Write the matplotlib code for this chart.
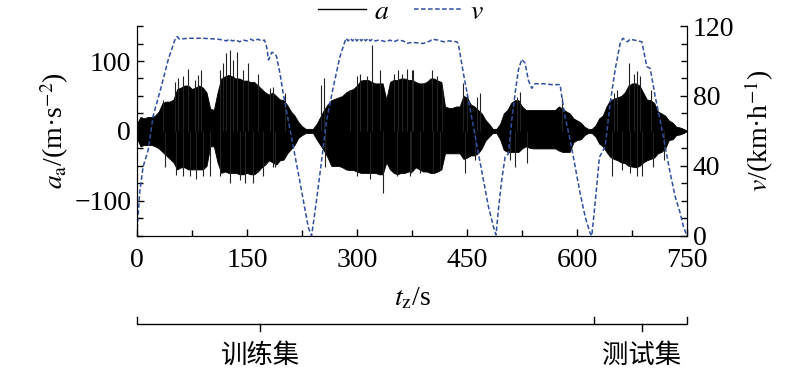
import matplotlib
matplotlib.use("Agg")
import matplotlib.pyplot as plt
import numpy as np
from matplotlib.ticker import MultipleLocator

plt.rcParams["font.family"] = ["Liberation Serif", "Noto Sans CJK SC"]
plt.rcParams["mathtext.fontset"] = "stix"
plt.rcParams["font.size"] = 20

# acceleration body envelope (read every 5 s)
t_env = np.arange(0, 751, 5)
a_upper = [10, 20, 18, 20, 20, 22, 28, 40, 42, 42, 45, 60, 62, 65, 65, 60, 62, 65, 62, 55,
           32, 30, 55, 75, 78, 80, 78, 75, 75, 72, 72, 70, 70, 65, 60, 55, 52, 55, 50, 45,
           44, 37, 28, 22, 13, 7, 3, 3, 3, 10, 20, 30, 38, 44, 46, 48, 50, 55, 58, 60,
           65, 72, 73, 73, 70, 68, 68, 68, 45, 70, 73, 73, 75, 75, 73, 73, 70, 68, 68, 70,
           75, 75, 72, 70, 35, 33, 33, 35, 35, 50, 48, 38, 35, 30, 25, 16, 10, 3, 3, 10,
           25, 30, 40, 44, 44, 35, 30, 30, 30, 30, 30, 30, 30, 30, 30, 35, 32, 28, 25, 18,
           15, 12, 6, 3, 3, 8, 18, 22, 35, 44, 46, 48, 50, 55, 65, 68, 68, 65, 55, 45,
           44, 40, 28, 25, 22, 15, 12, 6, 5, 3, 0]
a_lower = [-10, -22, -20, -20, -20, -22, -25, -30, -35, -40, -45, -55, -52, -52, -55, -55, -55, -55, -55, -50,
           -22, -22, -45, -60, -58, -60, -60, -60, -62, -62, -60, -62, -62, -58, -52, -48, -42, -45, -48, -42,
           -41, -32, -26, -20, -10, -6, -3, -3, -3, -12, -20, -28, -38, -50, -50, -50, -52, -55, -56, -56,
           -58, -60, -60, -60, -60, -60, -62, -62, -45, -55, -60, -62, -60, -60, -58, -58, -52, -55, -58, -58,
           -60, -60, -58, -55, -32, -32, -32, -32, -32, -40, -38, -35, -35, -32, -25, -14, -8, -3, -3, -12,
           -27, -30, -30, -30, -30, -25, -22, -24, -25, -25, -25, -25, -25, -25, -25, -28, -30, -30, -30, -16,
           -13, -12, -6, -3, -3, -8, -18, -22, -30, -37, -40, -42, -45, -46, -50, -51, -52, -50, -45, -42,
           -40, -38, -32, -30, -25, -13, -12, -6, -5, -3, 0]

# isolated spikes of the acceleration trace
spike_t = [38, 52, 70, 72, 88, 100, 122, 127, 127, 136, 152, 159, 251, 255, 256, 304, 313, 320,
           336, 356, 368, 374, 377, 402, 445, 447, 468, 515, 522, 532, 579, 647, 654, 671, 682, 682,
           36, 56, 63, 79, 84, 113, 118, 131, 145, 165, 181, 54, 63, 81, 90, 113, 140, 147, 172, 186,
           186, 202, 290, 300, 331, 350, 361, 375, 188, 300, 318, 354, 372,
           390, 409, 416, 450, 463, 518, 386, 404, 413, 461, 509,
           650, 677, 686, 700, 661, 672, 688, 704, 718]
spike_a = [-51, 70, 89, -65, 87, -65, 111, 116, -75, 113, 97, -75, 66, 75, -51, 82, 78, 123,
           -89, 87, 89, -60, 87, 87, 68, -60, 54, -51, 56, -46, 47, -65, 58, 97, 85, -65,
           44, 75, 78, 73, 80, 87, 97, 101, 87, 82, 61, -63, -65, -68, -65, -65, -70, -75, -65, -51,
           63, 54, 58, 78, 87, 82, 82, 87, -51, -65, -68, -65, -65,
           68, 78, 63, 54, 49, 49, -60, -60, -56, -41, -41,
           54, 82, 78, 58, -56, -60, -65, -51, -41]

# vehicle speed
t_v = [0, 4, 8.6, 15.5, 22.3, 33.6, 42.7, 51.8, 55, 58, 70, 90, 110, 118, 122, 126, 130, 135,
       140, 145, 150, 155, 160, 165, 170, 174, 177, 179.5, 184, 188.6, 190.5, 195, 199.5, 206.4,
       213.2, 220, 226.8, 233.6, 238.2, 245, 251.8, 258.6, 267.7, 276.8, 285, 288, 291, 294, 297,
       300, 303, 306, 309, 312, 315, 318, 321, 325, 330, 340, 345, 350, 356, 363, 368, 372, 380,
       390, 400, 402, 410, 418, 425, 436, 438, 440.5, 445, 451.9, 458.7, 465.5, 472.3, 479.1,
       485.9, 489.5, 492.7, 497.3, 501.8, 506.4, 510.9, 515.5, 520, 524.6, 529.1, 533.6, 538.2,
       542.7, 554, 565, 576.8, 579.1, 583.6, 590.5, 597.3, 604.1, 610.9, 617.7, 620, 624.5, 630.4,
       638.2, 645, 651.8, 658.6, 662.3, 668.6, 672.3, 688.2, 695, 699.6, 706.4, 713.2, 720, 726.8,
       733.6, 740.5, 745, 749.6]
v = [0, 25, 39.6, 49, 68.6, 85.7, 100.6, 112, 114, 112.5, 113, 113, 112.5, 112, 111.5, 112.5,
     111.5, 112, 111, 112, 111.5, 112.5, 111.5, 112.5, 111.5, 112, 108, 100.6, 105, 104, 102.5,
     93, 81.5, 66, 51, 36, 20.6, 5, 0, 20.6, 43, 66, 85, 102.5, 113, 111.5, 113, 111.5, 113,
     111.5, 113, 111.5, 113, 111.5, 113, 111.5, 112.5, 111.5, 112, 111, 112, 111, 112, 111.5,
     110, 110.5, 110.5, 110, 111.5, 112.5, 112, 111, 111.5, 111, 110, 104, 93, 77.7, 62.5, 47,
     32, 16.8, 5.3, 0.5, 14.9, 32, 45, 47, 66, 81.5, 95, 101, 98.7, 89, 84.4, 87, 87, 86.5,
     86.5, 79.6, 68, 55, 39.6, 24.4, 11, 1.5, 0, 18.7, 45, 51, 75.8, 95, 110, 113, 111, 112.5,
     111, 96.8, 95.8, 79.6, 66, 51, 36, 22.5, 13, 5, 0]

# dataset split bracket (x positions in s)
split_t = 623
train_mark = 168
test_mark = 688

fig = plt.figure(figsize=(8, 3.72), dpi=100)
ax = fig.add_axes([0.171, 0.366, 0.688, 0.564])
ax2 = ax.twinx()

ax.fill_between(t_env, a_lower, a_upper, color="black", lw=0.6, edgecolor="black")
ax.vlines(spike_t, 0, spike_a, color="#222222", lw=0.8)
la, = ax.plot([], [], color="black", lw=1.0, label="$a$")
lv, = ax2.plot(t_v, v, color="#2f4f9f", lw=1.1, ls=(0, (3, 1.6)), label="$v$")

ax.set_xlim(0, 750)
ax.set_ylim(-150, 150)
ax2.set_ylim(0, 120)
ax.xaxis.set_major_locator(MultipleLocator(150))
ax.xaxis.set_minor_locator(MultipleLocator(75))
ax.yaxis.set_major_locator(MultipleLocator(100))
ax.yaxis.set_minor_locator(MultipleLocator(25))
ax2.yaxis.set_major_locator(MultipleLocator(40))
ax2.yaxis.set_minor_locator(MultipleLocator(10))

for a in (ax, ax2):
    a.spines["top"].set_visible(False)
    a.tick_params(which="both", direction="in", width=1)
    a.tick_params(which="major", length=5, pad=4)
    a.tick_params(which="minor", length=4)
ax.tick_params(axis="x", pad=9)
ax.tick_params(axis="y", left=True, right=False)
ax2.tick_params(axis="y", right=True, left=False)

ax.set_xlabel("$t_{\\rm z}$/s", labelpad=9)
ax.set_ylabel("$a_{\\rm a}$/(m·s$^{-2}$)", labelpad=2)
ax2.set_ylabel("$v$/(km·h$^{-1}$)", labelpad=6)

ax.legend(handles=[la, lv], loc="center", bbox_to_anchor=(0.48, 1.065), ncol=2,
          frameon=False, handlelength=1.7, columnspacing=0.9, handletextpad=0.3,
          borderaxespad=0, fontsize=20)

# bracket below the axis marking training and test sets
tr = ax.get_xaxis_transform()
y_top, y_mid, y_bot = -0.386, -0.419, -0.452
ax.plot([0, 0, split_t, split_t], [y_top, y_mid, y_mid, y_top], color="black", lw=1,
        transform=tr, clip_on=False)
ax.plot([split_t, 750, 750], [y_mid, y_mid, y_top], color="black", lw=1,
        transform=tr, clip_on=False)
for m in (train_mark, test_mark):
    ax.plot([m, m], [y_mid, y_bot], color="black", lw=1, transform=tr, clip_on=False)
ax.text(train_mark, -0.57, "训练集", transform=tr, ha="center", va="center",
        fontsize=19, family=["Noto Sans CJK SC"])
ax.text(test_mark, -0.57, "测试集", transform=tr, ha="center", va="center",
        fontsize=19, family=["Noto Sans CJK SC"])

fig.savefig("out.png", dpi=100)
